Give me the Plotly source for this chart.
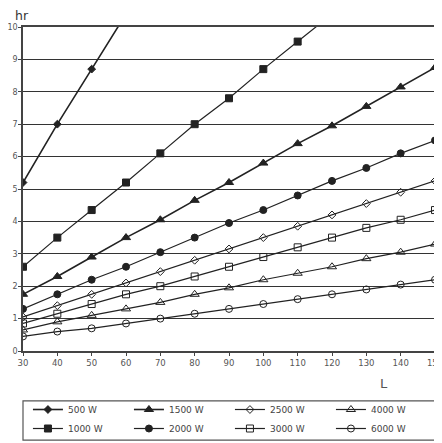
import plotly.graph_objects as go

# L values (x axis)
L = [30, 40, 50, 60, 70, 80, 90, 100, 110, 120, 130, 140, 150]

# hours, per heater power
hr_500 = [5.2, 7.0, 8.7, 10.4]
hr_1000 = [2.6, 3.5, 4.35, 5.2, 6.1, 7.0, 7.8, 8.7, 9.55, 10.4]
hr_1500 = [1.75, 2.3, 2.9, 3.5, 4.05, 4.65, 5.2, 5.8, 6.4, 6.95, 7.55, 8.15, 8.75]
hr_2000 = [1.3, 1.75, 2.2, 2.6, 3.05, 3.5, 3.95, 4.35, 4.8, 5.25, 5.65, 6.1, 6.5]
hr_2500 = [1.05, 1.4, 1.75, 2.1, 2.45, 2.8, 3.15, 3.5, 3.85, 4.2, 4.55, 4.9, 5.25]
hr_3000 = [0.85, 1.15, 1.45, 1.75, 2.0, 2.3, 2.6, 2.9, 3.2, 3.5, 3.8, 4.05, 4.35]
hr_4000 = [0.65, 0.9, 1.1, 1.3, 1.5, 1.75, 1.95, 2.2, 2.4, 2.6, 2.85, 3.05, 3.3]
hr_6000 = [0.45, 0.6, 0.7, 0.85, 1.0, 1.15, 1.3, 1.45, 1.6, 1.75, 1.9, 2.05, 2.2]

# legend order fills rows: first row then second row
series = [
    ("500 W", hr_500, "diamond", 6, 1.6),
    ("1500 W", hr_1500, "triangle-up", 8, 1.6),
    ("2500 W", hr_2500, "diamond-open", 6, 1.2),
    ("4000 W", hr_4000, "triangle-up-open", 8, 1.2),
    ("1000 W", hr_1000, "square", 7, 1.2),
    ("2000 W", hr_2000, "circle", 7, 1.2),
    ("3000 W", hr_3000, "square-open", 7, 1.2),
    ("6000 W", hr_6000, "circle-open", 7, 1.2),
]

fig = go.Figure()
for name, ys, sym, size, lw in series:
    fig.add_trace(go.Scatter(
        x=L[:len(ys)], y=ys, name=name, mode="lines+markers",
        line=dict(color="#222222", width=lw),
        marker=dict(symbol=sym, size=size, color="#222222",
                    line=dict(color="#222222", width=1)),
    ))

fig.update_xaxes(range=[30, 150], tickvals=L, showgrid=False, automargin=False,
                 showline=True, linecolor="#444444", linewidth=1.5, mirror=True,
                 ticks="outside", ticklen=3, tickcolor="#444444",
                 ticklabeloverflow="allow",
                 tickfont=dict(size=8.5, color="#555555"), zeroline=False)
fig.update_yaxes(range=[0, 10], dtick=1, showgrid=True, gridcolor="#333333",
                 gridwidth=1.3, showline=True, linecolor="#444444", linewidth=1.5,
                 mirror=True, ticks="outside", ticklen=3, tickcolor="#444444",
                 automargin=False, ticklabelstandoff=-1,
                 tickfont=dict(size=8, color="#555555"), zeroline=False)

# legend frame drawn as a shape so its size matches the original box
fig.add_shape(type="rect", xref="paper", yref="paper",
              x0=0, x1=1, y0=-0.275, y1=-0.154,
              line=dict(color="#555555", width=1.2), fillcolor="rgba(0,0,0,0)")

# the page body adds an 8px offset, so the figure is sized and margined for it
fig.update_layout(
    width=434, height=435,
    margin=dict(l=15, r=7, t=19, b=92),
    paper_bgcolor="white", plot_bgcolor="white",
    font=dict(family="DejaVu Sans, Arial, sans-serif", color="#333333"),
    legend=dict(orientation="h", xref="paper", x=0.012, xanchor="left",
                yref="container", y=0.0, yanchor="bottom",
                borderwidth=0, bgcolor="rgba(0,0,0,0)",
                font=dict(size=9, color="#444444"),
                entrywidth=56, itemwidth=30, tracegroupgap=0),
    annotations=[
        dict(text="hr", xref="paper", yref="paper", x=-0.003, y=1.005,
             xanchor="center", yanchor="bottom", showarrow=False,
             font=dict(size=12.5, color="#333333")),
        dict(text="L", xref="paper", yref="paper", x=0.875, y=-0.07,
             xanchor="center", yanchor="top", showarrow=False,
             font=dict(size=13, color="#555555")),
    ],
)

fig.write_html("out.html")
